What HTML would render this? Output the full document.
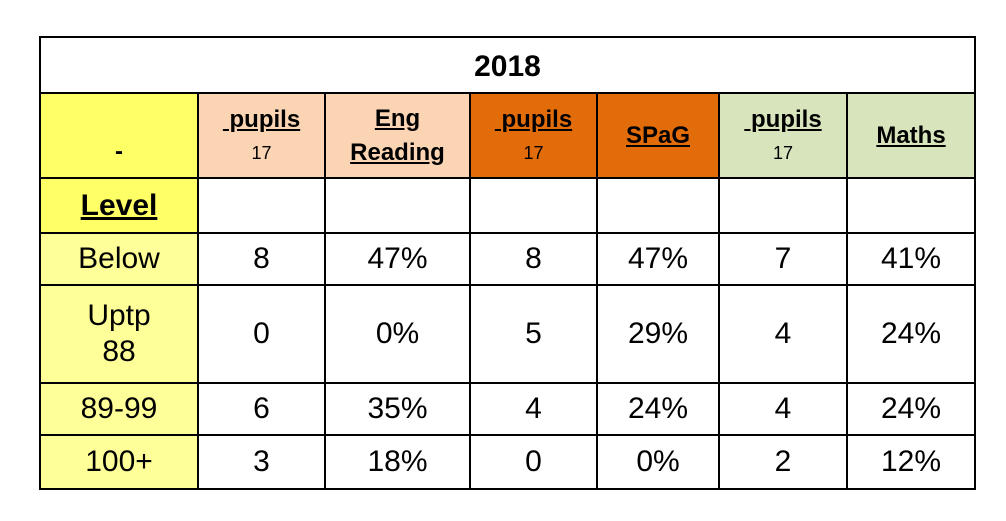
<!DOCTYPE html>
<html><head><meta charset="utf-8">
<style>
body{margin:0;background:#fff;width:1006px;height:521px;overflow:hidden;position:relative;font-family:"Liberation Sans",sans-serif;}
.c{position:absolute;box-sizing:border-box;border:2px solid #000;display:flex;flex-direction:column;align-items:center;justify-content:center;text-align:center;color:#000;}
.h{font-weight:bold;font-size:24px;line-height:34px;}
.t{font-size:30px;padding-top:4px;}
.u{text-decoration:underline;}
.d{font-size:30px;line-height:36px;}
.s{font-size:18px;font-weight:normal;display:block;line-height:32px;}
</style></head><body>
<div id="t"></div>
<script>
const xs=[40,198,325,470,597,719,847,975];
const ys=[37,93,178,233,285,383,435,489];
const levels=["Below","Uptp<br>88","89-99","100+"];
const readingPupils=["8","0","6","3"];
const readingPct=["47%","0%","35%","18%"];
const spagPupils=["8","5","4","0"];
const spagPct=["47%","29%","24%","0%"];
const mathsPupils=["7","4","4","2"];
const mathsPct=["41%","24%","24%","12%"];
const headers=['<span style="padding-top:32px">-</span>','<span class="u">&nbsp;pupils</span><span class="s">17</span>','<span class="u">Eng<br>Reading</span>','<span class="u">&nbsp;pupils</span><span class="s">17</span>','<span class="u">SPaG</span>','<span class="u">&nbsp;pupils</span><span class="s">17</span>','<span class="u">Maths</span>'];
const hbg=['#ffff66','#fbd4b4','#fbd4b4','#e36c0a','#e36c0a','#d7e4bc','#d7e4bc'];
const t=document.getElementById('t');
function cell(x0,y0,x1,y1,html,bg,cls,name){
  const d=document.createElement('div');
  d.className='c '+cls;
  d.style.left=(x0-1)+'px';d.style.top=(y0-1)+'px';
  d.style.width=(x1-x0+2)+'px';d.style.height=(y1-y0+2)+'px';
  d.style.background=bg;d.innerHTML=html;
  
  
  t.appendChild(d);
}
cell(xs[0],ys[0],xs[7],ys[1],'2018','#fff','h t','table-title');
for(let i=0;i<7;i++){cell(xs[i],ys[1],xs[i+1],ys[2],headers[i],hbg[i],'h','header-cell');}
cell(xs[0],ys[2],xs[1],ys[3],'<span class="u" style="font-size:30px">Level</span>','#ffff66','h','level-label');
for(let i=1;i<7;i++)cell(xs[i],ys[2],xs[i+1],ys[3],'','#fff','d','empty-cell');
const cols=[readingPupils,readingPct,spagPupils,spagPct,mathsPupils,mathsPct];
for(let r=0;r<4;r++){
  cell(xs[0],ys[r+3],xs[1],ys[r+4],levels[r],'#ffff99','d','level-'+r);
  for(let c=0;c<6;c++)cell(xs[c+1],ys[r+3],xs[c+2],ys[r+4],cols[c][r],'#fff','d','value-cell');
}
</script>
</body></html>
